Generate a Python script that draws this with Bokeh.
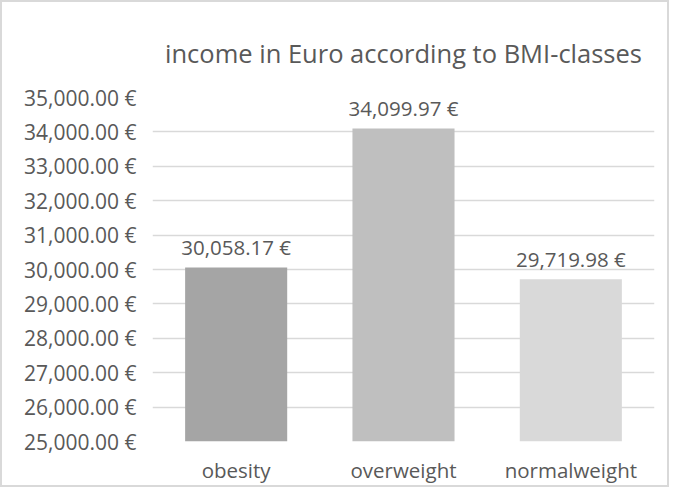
from bokeh.plotting import figure
from bokeh.models import ColumnDataSource, FixedTicker, FactorRange, Range1d, Title
from bokeh.core.properties import value
from bokeh.embed import file_html
from bokeh.resources import INLINE

categories = ["obesity", "overweight", "normalweight"]
incomes = [30058.17, 34099.97, 29719.98]
bar_colors = ["#a5a5a5", "#bfbfbf", "#d9d9d9"]
y_ticks = [25000, 26000, 27000, 28000, 29000, 30000, 31000, 32000, 33000, 34000, 35000]
title_text = "income in Euro according to BMI-classes"

FONT = "Open Sans"
TXT = "#595959"

labels = [f"{v:,.2f} €" for v in incomes]
src = ColumnDataSource(dict(cat=categories, val=incomes, col=bar_colors, lab=labels))

p = figure(
    width=669, height=487,
    x_range=FactorRange(*categories, range_padding=0),
    y_range=Range1d(25000, 35000),
    output_backend="svg", toolbar_location=None,
    min_border_left=150, min_border_right=17,
    min_border_top=95, min_border_bottom=48,
)
p.title = Title(text=title_text, align="center", text_font=FONT, text_font_size="25.5px",
                text_font_style="normal", text_color=TXT, standoff=55)

p.vbar(x="cat", top="val", bottom=25000, width=0.61, color="col", line_color=None, source=src)
p.text(x="cat", y="val", text="lab", source=src, text_align="center", text_baseline="bottom",
       y_offset=-6, text_font=value(FONT), text_font_size="20.5px", text_color=TXT)

p.yaxis.ticker = FixedTicker(ticks=y_ticks)
p.yaxis.major_label_overrides = {t: f"{t:,.2f} €" for t in y_ticks}
for ax in (p.xaxis, p.yaxis):
    ax.axis_line_color = None
    ax.major_tick_line_color = None
    ax.minor_tick_line_color = None
    ax.major_label_text_font = FONT
    ax.major_label_text_color = TXT
p.yaxis.major_label_text_font_size = "21px"
p.xaxis.major_label_text_font_size = "20.5px"
p.yaxis.major_label_standoff = 10
p.xaxis.major_label_standoff = 8

p.xgrid.grid_line_color = None
p.ygrid.grid_line_color = "#d9d9d9"
p.ygrid.grid_line_width = 1.5
p.outline_line_color = None
p.background_fill_color = "white"
p.border_fill_color = "white"
p.styles = {"border": "2px solid #d9d9d9", "box-sizing": "border-box"}

open("out.html", "w").write(file_html(p, INLINE))
